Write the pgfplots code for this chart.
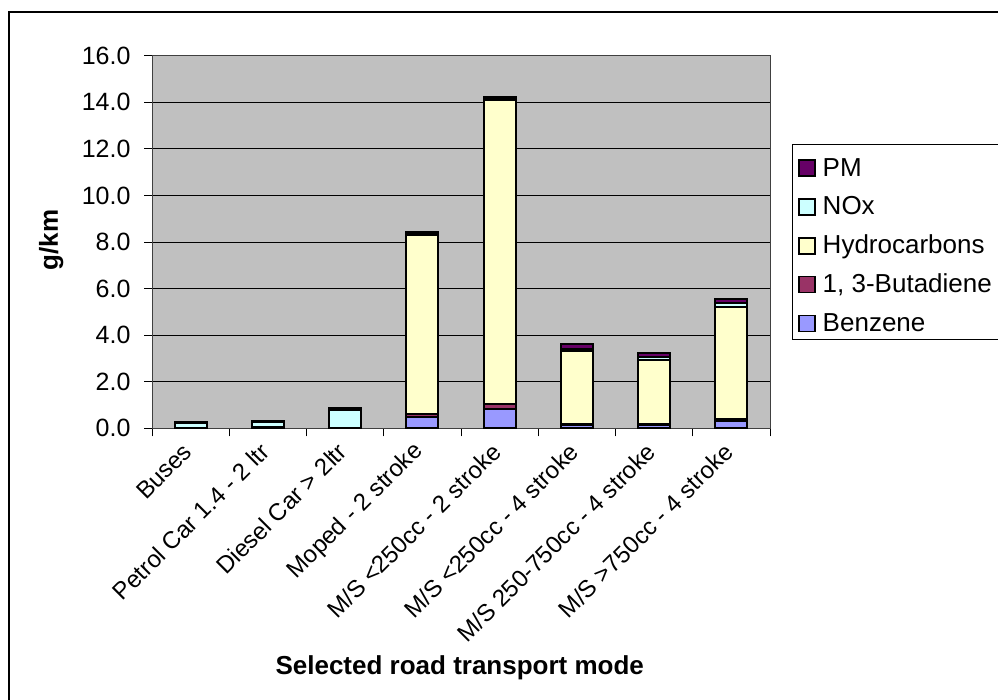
\documentclass[border=0pt]{standalone}
\usepackage{pgfplots}
\pgfplotsset{compat=1.18}
\usepackage{pgfplotstable}
\usepackage{fontspec}
\setmainfont{Liberation Sans}
\definecolor{cBen}{RGB}{153,153,255}
\definecolor{cBut}{RGB}{153,51,102}
\definecolor{cHC}{RGB}{255,255,204}
\definecolor{cNOx}{RGB}{204,255,255}
\definecolor{cPM}{RGB}{102,0,102}
\definecolor{cBg}{RGB}{192,192,192}

\pgfplotstableread{
x Ben But HC NOx PM
0 0.00 0.00 0.02 0.20 0.04
1 0.01 0.00 0.03 0.24 0.03
2 0.00 0.00 0.03 0.76 0.08
3 0.50 0.12 7.70 0.02 0.10
4 0.85 0.20 13.05 0.02 0.10
5 0.15 0.05 3.10 0.12 0.20
6 0.15 0.05 2.75 0.10 0.20
7 0.30 0.10 4.80 0.20 0.15
}\data

\begin{document}
\begin{tikzpicture}
\useasboundingbox (0bp,0bp) rectangle (998bp,700bp);
\draw[line width=1.2bp] (9bp,-10bp) -- (9bp,688bp) -- (1010bp,688bp);
\begin{axis}[
  at={(152bp,271.7bp)}, anchor=south west,
  scale only axis, width=618bp, height=372.6bp,
  ybar stacked, bar width=32bp,
  xmin=-0.5, xmax=7.5, ymin=0, ymax=16,
  ytick={0,2,...,16},
  ymajorgrids, grid style={black, line width=0.8bp},
  axis background/.style={fill=cBg},
  axis line style={draw=black!75, line width=1bp},
  tick style={black, line width=0.8bp},
  tick pos=left,
  tick align=outside, major tick length=8bp,
  xtick={-0.5,0.5,...,7.5},
  x tick label as interval,
  xticklabels={Buses, Petrol Car 1.4 - 2 ltr, Diesel Car > 2ltr, Moped - 2 stroke, M/S <250cc - 2 stroke, M/S <250cc - 4 stroke, M/S 250-750cc - 4 stroke, M/S >750cc - 4 stroke},
  x tick label style={rotate=45, anchor=east, inner sep=1bp, xshift=-9bp, yshift=-6bp, font=\fontsize{24bp}{28bp}\selectfont},
  y tick label style={font=\fontsize{25bp}{30bp}\selectfont, xshift=-10bp},
  yticklabel style={/pgf/number format/.cd, fixed, fixed zerofill, precision=1, assume math mode=true},
  ylabel={g/km},
  ylabel style={at={(axis description cs:-0.163,0.505)}, anchor=center, font=\bfseries\fontsize{26bp}{30bp}\selectfont},
  xlabel={Selected road transport mode},
  xlabel style={at={(axis description cs:0.498,-0.66)}, anchor=base, font=\bfseries\fontsize{26bp}{30bp}\selectfont},
  reverse legend,
  legend cell align=left,
  legend image code/.code={\draw[#1, draw=black, line width=1.5bp] (0bp,-7.2bp) rectangle (16bp,8.8bp);},
  legend style={at={(axis description cs:1.0457,0.728)}, anchor=north west, draw=none, fill=none, inner sep=0pt, outer sep=0pt,
    row sep=14.8bp, column sep=7bp,
    nodes={inner sep=0pt, text height=19bp, text depth=5bp, font=\fontsize{26bp}{30bp}\selectfont}},
]
\addplot[fill=cBen, draw=black, line width=2bp] table[x=x, y=Ben] {\data};
\addplot[fill=cBut, draw=black, line width=2bp] table[x=x, y=But] {\data};
\addplot[fill=cHC, draw=black, line width=2bp] table[x=x, y=HC] {\data};
\addplot[fill=cNOx, draw=black, line width=2bp] table[x=x, y=NOx] {\data};
\addplot[fill=cPM, draw=black, line width=2bp] table[x=x, y=PM] {\data};
\legend{Benzene, {1, 3-Butadiene}, Hydrocarbons, NOx, PM}
\end{axis}
\draw[line width=1bp] (792bp,360bp) rectangle (1010bp,555bp);
\end{tikzpicture}
\end{document}
